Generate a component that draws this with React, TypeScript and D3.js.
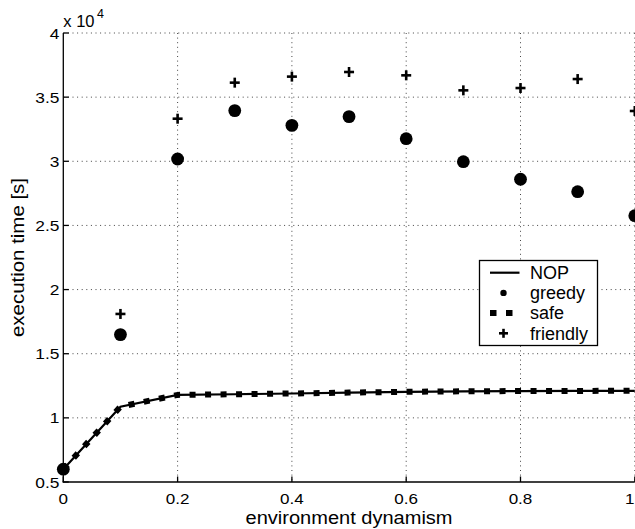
import React from "react";
import * as d3 from "d3";

const dynamism = [0, 0.1, 0.2, 0.3, 0.4, 0.5, 0.6, 0.7, 0.8, 0.9, 1.0];
const nop = [6000, 10870, 11790, 11840, 11900, 11970, 12030, 12070, 12090, 12100, 12110];
const safe = [6000, 10870, 11790, 11840, 11900, 11970, 12030, 12070, 12090, 12100, 12110];
const greedy = [6000, 16490, 30180, 33950, 32800, 33480, 31760, 29970, 28600, 27630, 25760];
const friendly = [6000, 18100, 33320, 36130, 36600, 36960, 36700, 35530, 35710, 36410, 33920];

const xTicks = [0, 0.2, 0.4, 0.6, 0.8, 1];
const xTickLabels = ["0", "0.2", "0.4", "0.6", "0.8", "1"];
const yTicks = [5000, 10000, 15000, 20000, 25000, 30000, 35000, 40000];
const yTickLabels = ["0.5", "1", "1.5", "2", "2.5", "3", "3.5", "4"];
const legendLabels = ["NOP", "greedy", "safe", "friendly"];

const W = 635;
const H = 529;
const FONT = "'Liberation Sans', Arial, Helvetica, sans-serif";

function labelWidth(s: string, fs: number, k: number) {
  let w = 0;
  for (const c of s) w += c === "." ? 0.278 : 0.556;
  return w * fs * k;
}

export default function App() {
  const x = d3.scaleLinear().domain([0, 1]).range([63.3, 634.8]);
  const y = d3.scaleLinear().domain([5000, 40000]).range([482, 33]);
  const line = d3
    .line<number>()
    .x((_, i) => x(dynamism[i]))
    .y((d) => y(d));

  const tickFs = 15.5;
  const legendY = [272.7, 292.9, 313.1, 333.3];
  const lastX = xTicks.length - 1;

  return (
    <svg
      width={W}
      height={H}
      style={{ position: "absolute", left: 0, top: 0, background: "#fff" }}
      fontFamily={FONT}
    >
      <rect x={0} y={0} width={W} height={H} fill="#fff" />
      {/* grid */}
      <g stroke="#444" strokeWidth={1} strokeDasharray="1 3.6">
        {xTicks.slice(1).map((t) => (
          <line key={"gx" + t} x1={x(t)} x2={x(t)} y1={y(40000)} y2={y(5000)} />
        ))}
        {yTicks.slice(1).map((t) => (
          <line key={"gy" + t} x1={x(0)} x2={x(1)} y1={y(t)} y2={y(t)} />
        ))}
      </g>
      {/* axes */}
      <g stroke="#000" strokeWidth={1.3}>
        <line x1={x(0)} x2={x(0)} y1={y(40000)} y2={y(5000) + 0.6} />
        <line x1={x(0) - 0.6} x2={x(1)} y1={y(5000)} y2={y(5000)} />
        {xTicks.map((t) => (
          <line key={"tx" + t} x1={x(t)} x2={x(t)} y1={y(5000)} y2={y(5000) - 5.5} />
        ))}
        {yTicks.map((t) => (
          <line key={"ty" + t} x1={x(0)} x2={x(0) + 5.5} y1={y(t)} y2={y(t)} />
        ))}
      </g>
      {/* tick labels */}
      <g fontSize={tickFs} fill="#000">
        {xTicks.map((t, i) => (
          <text
            key={"lx" + t}
            x={i === lastX ? W - 0.5 : x(t)}
            y={503.5}
            textAnchor={i === lastX ? "end" : "middle"}
            textLength={labelWidth(xTickLabels[i], tickFs, 1.1)}
            lengthAdjust="spacingAndGlyphs"
          >
            {xTickLabels[i]}
          </text>
        ))}
        {yTicks.map((t, i) => (
          <text
            key={"ly" + t}
            x={59.5}
            y={y(t) + 5.5}
            textAnchor="end"
            textLength={labelWidth(yTickLabels[i], tickFs, 1.12)}
            lengthAdjust="spacingAndGlyphs"
          >
            {yTickLabels[i]}
          </text>
        ))}
      </g>
      {/* exponent */}
      <text x={63.3} y={27} fontSize={16.5} fill="#000">
        x 10
      </text>
      <text x={97} y={18} fontSize={12.5} fill="#000">
        4
      </text>
      {/* axis labels */}
      <text
        x={x(0.5)}
        y={523.5}
        fontSize={17.5}
        textAnchor="middle"
        fill="#000"
        textLength={207}
        lengthAdjust="spacingAndGlyphs"
      >
        environment dynamism
      </text>
      <text
        transform={`translate(23.5, ${(y(5000) + y(40000)) / 2}) rotate(-90)`}
        fontSize={18}
        textAnchor="middle"
        fill="#000"
        textLength={159}
        lengthAdjust="spacingAndGlyphs"
      >
        execution time [s]
      </text>
      {/* NOP */}
      <path d={line(nop) || ""} fill="none" stroke="#000" strokeWidth={2.2} />
      {/* safe */}
      <path
        d={line(safe) || ""}
        fill="none"
        stroke="#000"
        strokeWidth={6}
        strokeDasharray="6 9.5"
      />
      {/* greedy */}
      {greedy.map((v, i) => (
        <circle key={"g" + i} cx={x(dynamism[i])} cy={y(v)} r={6.4} fill="#000" />
      ))}
      {/* friendly */}
      <g stroke="#000" strokeWidth={2.6}>
        {friendly.map((v, i) => {
          const cx = x(dynamism[i]);
          const cy = y(v);
          return (
            <g key={"f" + i}>
              <line x1={cx - 5} x2={cx + 5} y1={cy} y2={cy} />
              <line x1={cx} x2={cx} y1={cy - 5} y2={cy + 5} />
            </g>
          );
        })}
      </g>
      {/* legend */}
      <rect x={479.5} y={260.5} width={118} height={85} fill="#fff" stroke="#000" strokeWidth={1.3} />
      <line x1={490} x2={519.5} y1={legendY[0]} y2={legendY[0]} stroke="#000" strokeWidth={2.2} />
      <circle cx={503.5} cy={legendY[1]} r={3.2} fill="#000" />
      <line
        x1={490}
        x2={519.5}
        y1={legendY[2]}
        y2={legendY[2]}
        stroke="#000"
        strokeWidth={6}
        strokeDasharray="6.5 9.5"
      />
      <g stroke="#000" strokeWidth={2.6}>
        <line x1={499} x2={508} y1={legendY[3]} y2={legendY[3]} />
        <line x1={503.5} x2={503.5} y1={legendY[3] - 4.5} y2={legendY[3] + 4.5} />
      </g>
      <g fontSize={18} fill="#000">
        {legendLabels.map((l, i) => (
          <text key={l} x={530} y={legendY[i] + 6.3}>
            {l}
          </text>
        ))}
      </g>
    </svg>
  );
}
